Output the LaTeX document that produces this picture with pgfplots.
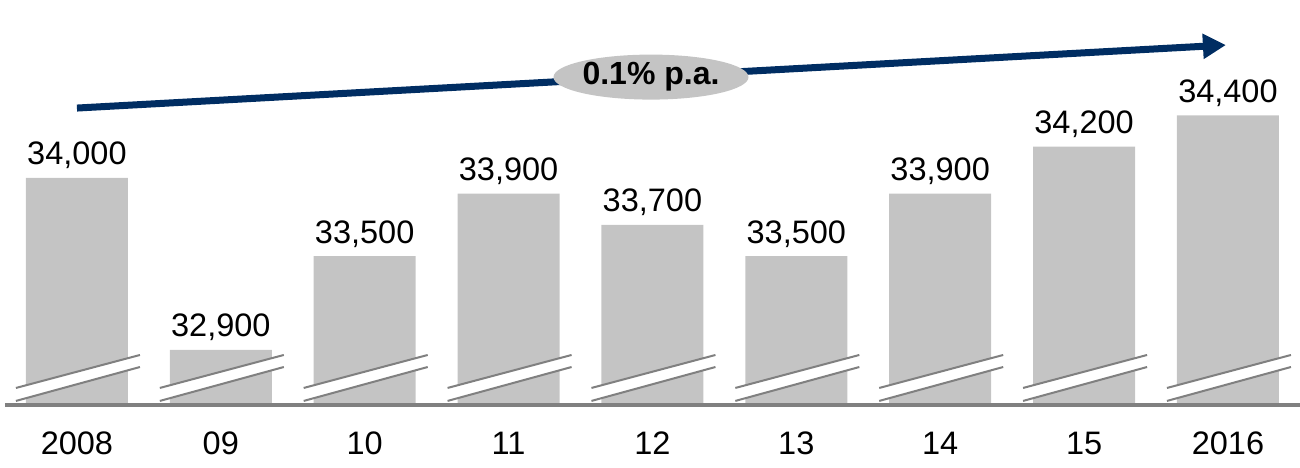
\documentclass[border=0pt]{standalone}
\usepackage{fontspec}
\setmainfont{Liberation Sans}
\usepackage{pgfplots}
\pgfplotsset{compat=1.18}
\usetikzlibrary{arrows.meta,shapes.geometric}
\definecolor{bargray}{RGB}{196,196,196}
\definecolor{linegray}{RGB}{128,128,128}
\definecolor{navy}{RGB}{0,45,98}
\begin{document}
\begin{tikzpicture}
\useasboundingbox (-5pt,-62pt) rectangle (1295pt,405pt);
\begin{axis}[
    scale only axis,
    width=1295pt, height=405pt,
    xmin=-0.5, xmax=8.5,
    ymin=32548, ymax=35138,
    clip=false,
    axis line style={draw=none},
    major tick length=0pt,
    ytick=\empty,
    xtick={0,...,8},
    xticklabels={2008,09,10,11,12,13,14,15,2016},
    xticklabel style={anchor=north, inner sep=0pt, yshift=-27pt,
        font=\fontsize{32.5}{38}\selectfont},
    /pgf/number format/assume math mode=true,
    /pgf/number format/1000 sep={,},
    nodes near coords,
    every node near coord/.append style={anchor=base, inner sep=0pt,
        yshift=13pt, font=\fontsize{32.5}{38}\selectfont, text=black},
]
\addplot[ybar, bar width=102pt, fill=bargray, draw=none]
coordinates {(0,34000) (1,32900) (2,33500) (3,33900) (4,33700)
             (5,33500) (6,33900) (7,34200) (8,34400)};

% axis break marks on every bar
\pgfplotsinvokeforeach{0,...,8}{
  \fill[white] ({#1-0.424},32574) -- ({#1+0.438},32791)
     -- ({#1+0.438},32868) -- ({#1-0.424},32657) -- cycle;
  \draw[linegray, line width=2pt] ({#1-0.424},32574) -- ({#1+0.438},32791);
  \draw[linegray, line width=2pt] ({#1-0.424},32657) -- ({#1+0.438},32868);
}

% baseline
\draw[linegray, line width=4pt] (-0.5,32548) -- (8.5,32548);

% growth arrow
\draw[navy, line width=7pt, -{Triangle[length=23pt,width=24pt]}]
  (0,34447) -- (7.986,34850);
\node[ellipse, fill=bargray, minimum width=195pt, minimum height=45pt,
      inner sep=0pt, font=\fontsize{32}{38}\selectfont\bfseries]
  at (3.99,34645) {0.1\% p.a.};
\end{axis}
\end{tikzpicture}
\end{document}
